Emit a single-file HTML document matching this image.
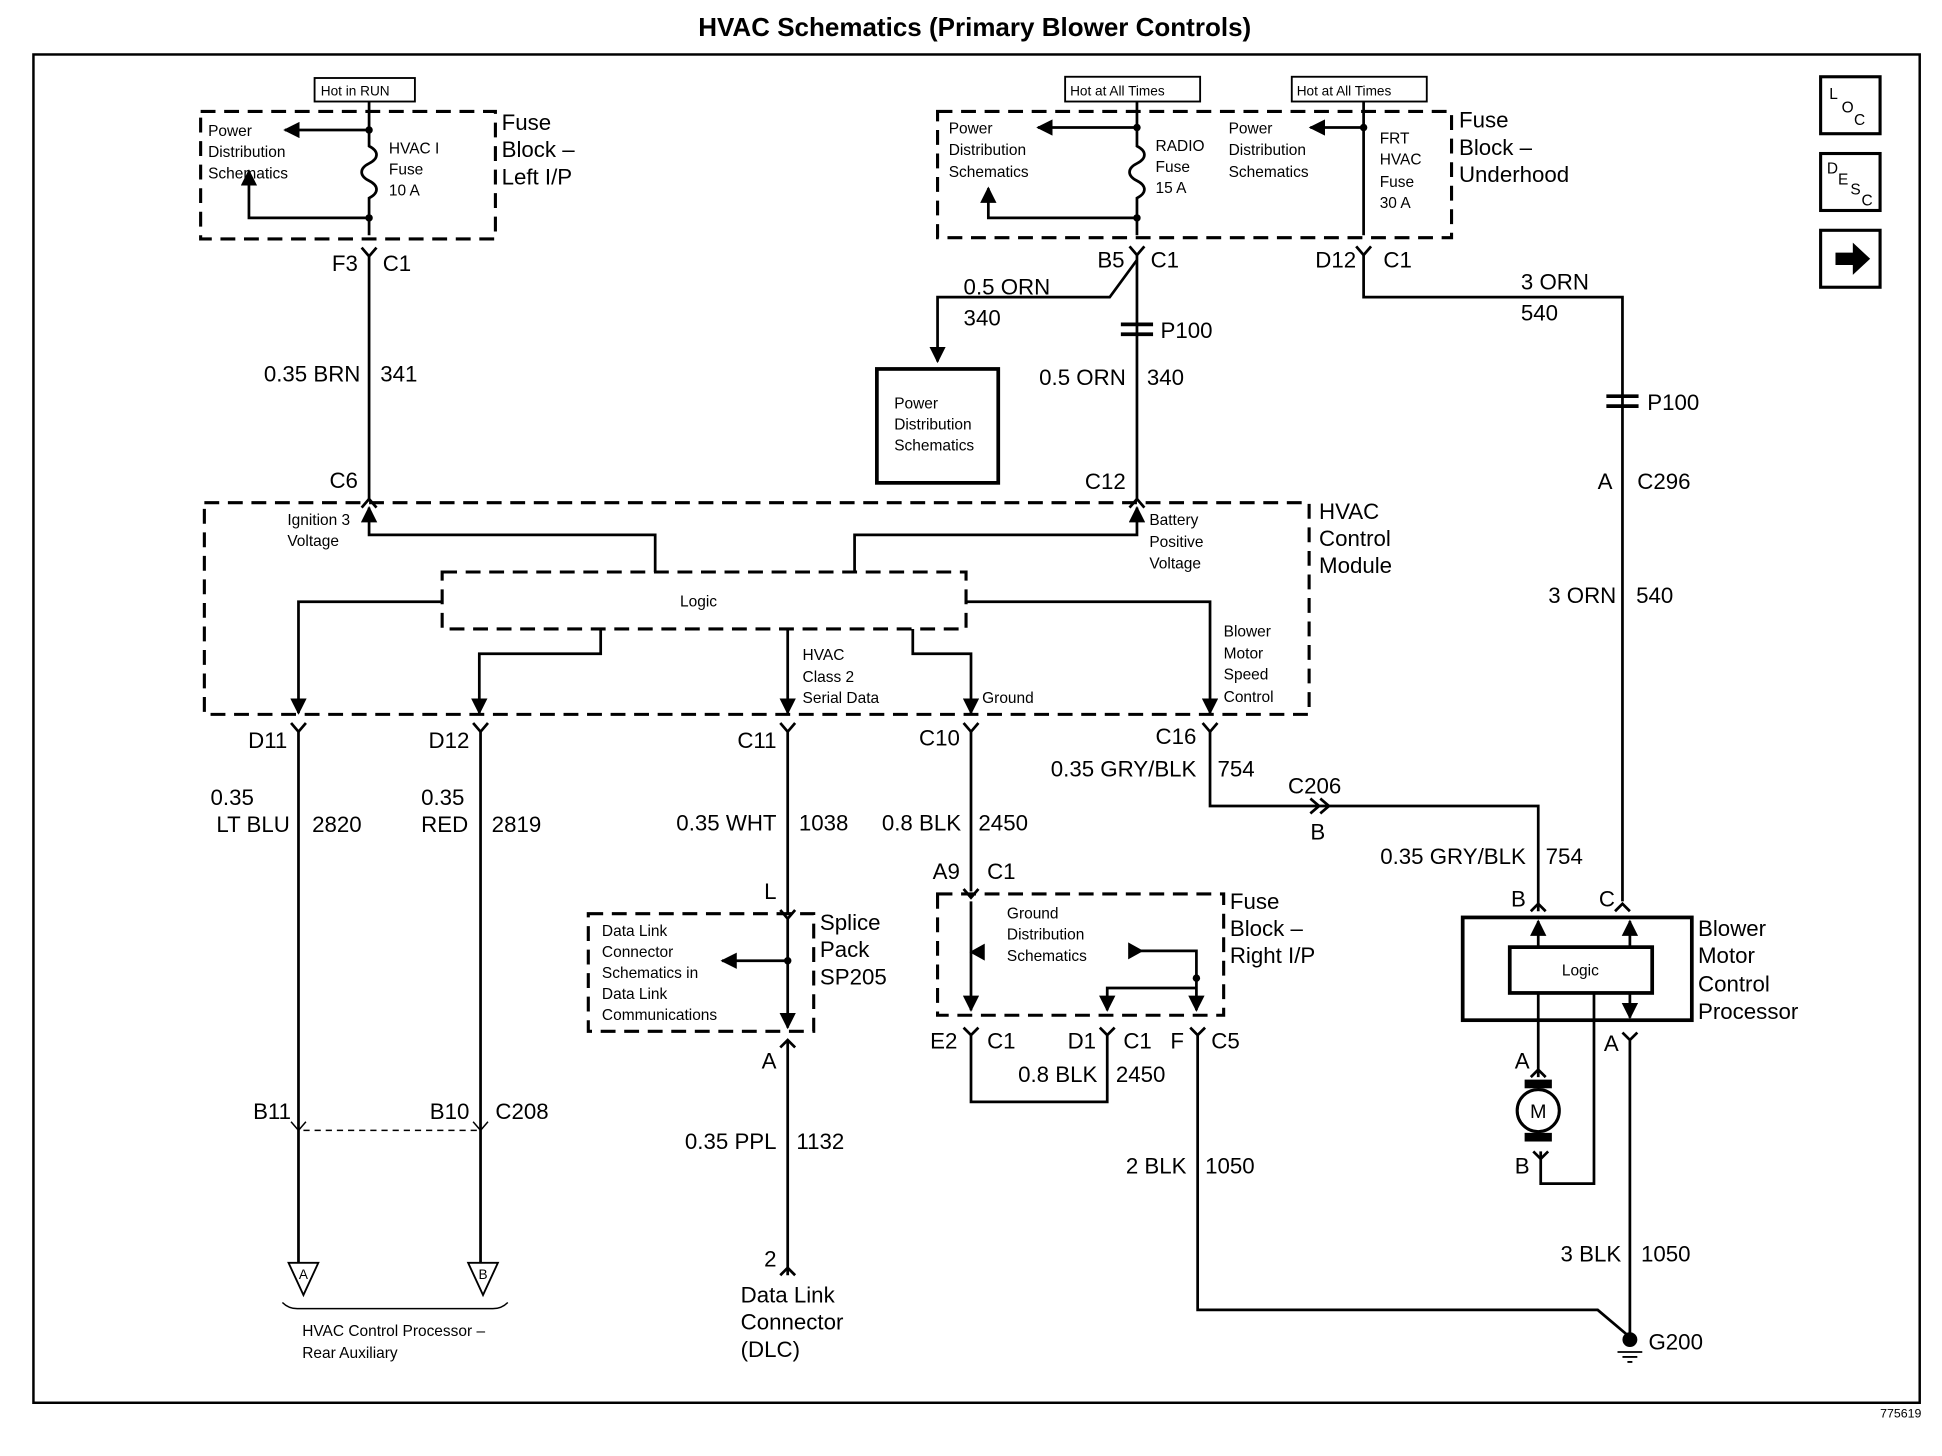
<!DOCTYPE html>
<html><head><meta charset="utf-8"><style>
html,body{margin:0;padding:0;background:#fff}
svg{display:block}
text{font-family:"Liberation Sans",Arial,sans-serif;fill:#000}
.l{font-size:18px}
.s{font-size:12.5px}
</style></head><body>
<svg width="1942" height="1456" viewBox="0 0 1568 1176" preserveAspectRatio="none" xmlns="http://www.w3.org/2000/svg">
<defs>
<marker id="ah" viewBox="0 0 10 10" refX="9" refY="5" markerWidth="6" markerHeight="6" orient="auto"><path d="M0,0 L10,5 L0,10 z" fill="#000"/></marker>
</defs>
<rect width="1568" height="1176" fill="#fff"/>
<text x="787" y="29" text-anchor="middle" font-size="21" font-weight="bold">HVAC Schematics (Primary Blower Controls)</text>
<rect x="27" y="44" width="1523" height="1089" fill="none" stroke="#000" stroke-width="2"/>
<text x="1518" y="1145" font-size="10">775619</text>
<g fill="none" stroke="#000" stroke-width="2.5">
<rect x="1470" y="62" width="48" height="46"/><rect x="1470" y="124" width="48" height="46"/><rect x="1470" y="186" width="48" height="46"/>
</g>
<text x="1477" y="80" class="s">L</text><text x="1487" y="91" class="s">O</text><text x="1497" y="101" class="s">C</text>
<text x="1475" y="140" class="s">D</text><text x="1484" y="149" class="s">E</text><text x="1494" y="157" class="s">S</text><text x="1503" y="166" class="s">C</text>
<path d="M1482,204 h14 v-8 l14,13 l-14,13 v-8 h-14z" fill="#000"/>

<g fill="none" stroke="#000" stroke-width="2.2">
<g stroke-dasharray="12,7" stroke-width="2.5">
<rect x="162" y="90" width="238" height="103"/>
<rect x="757" y="90" width="415" height="102"/>
<rect x="165" y="406" width="892" height="171"/>
<rect x="357" y="462" width="423" height="46"/>
<rect x="475" y="738" width="182" height="95"/>
<rect x="757" y="722" width="231" height="98"/>
</g>
<rect x="254" y="63" width="81" height="19" stroke-width="1.5"/>
<rect x="860" y="62" width="109" height="20" stroke-width="1.5"/>
<rect x="1043" y="62" width="109" height="20" stroke-width="1.5"/>
<path d="M298,82 V118 c8,4 8,10 0,14 c-8,4 -8,10 0,14 c8,4 8,10 0,14 V190"/>
<path d="M298,105 H230" marker-end="url(#ah)"/>
<path d="M298,176 H201 V138" marker-end="url(#ah)"/>
<path d="M292,200 l6,7 l6,-7 M298,207 V405"/>
<path d="M918,82 V118 c8,4 8,10 0,14 c-8,4 -8,10 0,14 c8,4 8,10 0,14 V190"/>
<path d="M918,103 H838" marker-end="url(#ah)"/>
<path d="M918,176 H798 V152" marker-end="url(#ah)"/>
<path d="M1101,82 V190"/>
<path d="M1101,103 H1058" marker-end="url(#ah)"/>
<path d="M912,199 l6,7 l6,-7 M1095,199 l6,7 l6,-7"/>
<path d="M918,206 V405"/>
<path d="M918,210 L896,240 H757 V292" marker-end="url(#ah)"/>
<rect x="708" y="298" width="98" height="92" stroke-width="3"/>
<path d="M1101,206 V240 H1310 V728"/>
<path d="M905,262 h26 M905,270 h26 M1297,320 h26 M1297,328 h26" stroke-width="3"/>
<path d="M529,462 V432 H298 V410" marker-end="url(#ah)"/>
<path d="M690,462 V432 H918 V410" marker-end="url(#ah)"/>
<path d="M357,486 H241 V576" marker-end="url(#ah)"/>
<path d="M485,508 V528 H387 V576" marker-end="url(#ah)"/>
<path d="M636,508 V576" marker-end="url(#ah)"/>
<path d="M737,508 V528 H784 V576" marker-end="url(#ah)"/>
<path d="M780,486 H977 V576" marker-end="url(#ah)"/>
<path d="M292,410 l6,-7 l6,7 M912,410 l6,-7 l6,7"/>
<path d="M235,584 l6,7 l6,-7 M382,584 l6,7 l6,-7 M630,584 l6,7 l6,-7 M778,584 l6,7 l6,-7 M971,584 l6,7 l6,-7"/>
<path d="M241,591 V1020 M388,591 V1020"/>
<path d="M245,913 H388" stroke-dasharray="5,4" stroke-width="1.2"/>
<path d="M235,906 l6,7 l6,-7 M382,906 l6,7 l6,-7" stroke-width="1.2"/>
<path d="M233,1020 L245,1046 L257,1020 z M378,1020 L390,1046 L402,1020 z" stroke-width="1.5"/>
<path d="M228,1052 q5,5 12,5 H398 q7,0 12,-5" stroke-width="1.2"/>
<path d="M636,591 V738"/>
<path d="M630,735 l6,7 l6,-7"/>
<path d="M636,742 V830" marker-end="url(#ah)"/>
<path d="M636,776 H583" marker-end="url(#ah)"/>
<path d="M630,846 l6,-6 l6,6 M636,840 V1030"/>
<path d="M630,1030 l6,-6 l6,6"/>
<path d="M784,591 V720"/>
<path d="M778,718 l6,7 l6,-7"/>
<path d="M784,728 V816" marker-end="url(#ah)"/>
<path d="M784,769 H794"/>
<path d="M794,764 l-9,5 l9,5z" fill="#000"/>
<path d="M912,763 l9,5 l-9,5z" fill="#000"/>
<path d="M921,768 H966 V816" marker-end="url(#ah)"/>
<path d="M966,798 H894 V816" marker-end="url(#ah)"/>
<path d="M778,830 l6,6 l6,-6 M888,830 l6,6 l6,-6 M961,830 l6,6 l6,-6"/>
<path d="M784,836 V890 H894 V836"/>
<path d="M967,836 V1058 H1290 L1316,1080"/>
<path d="M977,591 V651 H1242 V736"/>
<path d="M1058,645 l7,6 l-7,6 M1066,645 l7,6 l-7,6"/>
<path d="M1236,736 l6,-6 l6,6 M1304,736 l6,-6 l6,6"/>
<rect x="1181" y="741" width="185" height="83" stroke-width="3"/>
<rect x="1219" y="765" width="115" height="37" stroke-width="3"/>
<path d="M1242,765 V744" marker-end="url(#ah)"/>
<path d="M1316,765 V744" marker-end="url(#ah)"/>
<path d="M1316,802 V822" marker-end="url(#ah)"/>
<path d="M1242,802 V870"/>
<path d="M1236,870 l6,-6 l6,6"/>
<path d="M1287,802 V956 H1244 V930"/>
<path d="M1238,930 l6,6 l6,-6"/>
<path d="M1310,834 l6,6 l6,-6 M1316,840 V1080"/>
<circle cx="1242" cy="897" r="17" stroke-width="2.5"/>
<path d="M1306,1092 h20 M1310,1096 h12 M1314,1100 h4" stroke-width="1.5"/>
</g>
<rect x="1231" y="872" width="22" height="7" fill="#000"/>
<rect x="1231" y="915" width="22" height="7" fill="#000"/>
<circle cx="1316" cy="1082" r="6" fill="#000"/>
<g fill="#000"><circle cx="298" cy="105" r="3"/><circle cx="298" cy="176" r="3"/><circle cx="918" cy="103" r="3"/><circle cx="918" cy="176" r="3"/><circle cx="1101" cy="103" r="3"/><circle cx="636" cy="776" r="3"/><circle cx="966" cy="790" r="3"/></g>

<g class="s">
<text x="259" y="77" font-size="11">Hot in RUN</text>
<text x="864" y="77" font-size="11">Hot at All Times</text>
<text x="1047" y="77" font-size="11">Hot at All Times</text>
<text x="168" y="110">Power</text><text x="168" y="127">Distribution</text><text x="168" y="144">Schematics</text>
<text x="314" y="124">HVAC I</text><text x="314" y="141">Fuse</text><text x="314" y="158">10 A</text>
<text x="766" y="108">Power</text><text x="766" y="125">Distribution</text><text x="766" y="143">Schematics</text>
<text x="933" y="122">RADIO</text><text x="933" y="139">Fuse</text><text x="933" y="156">15 A</text>
<text x="992" y="108">Power</text><text x="992" y="125">Distribution</text><text x="992" y="143">Schematics</text>
<text x="1114" y="116">FRT</text><text x="1114" y="133">HVAC</text><text x="1114" y="151">Fuse</text><text x="1114" y="168">30 A</text>
<text x="722" y="330">Power</text><text x="722" y="347">Distribution</text><text x="722" y="364">Schematics</text>
<text x="232" y="424">Ignition 3</text><text x="232" y="441">Voltage</text>
<text x="928" y="424">Battery</text><text x="928" y="442">Positive</text><text x="928" y="459">Voltage</text>
<text x="564" y="490" text-anchor="middle">Logic</text>
<text x="648" y="533">HVAC</text><text x="648" y="551">Class 2</text><text x="648" y="568">Serial Data</text>
<text x="793" y="568">Ground</text>
<text x="988" y="514">Blower</text><text x="988" y="532">Motor</text><text x="988" y="549">Speed</text><text x="988" y="567">Control</text>
<text x="486" y="756">Data Link</text><text x="486" y="773">Connector</text><text x="486" y="790">Schematics in</text><text x="486" y="807">Data Link</text><text x="486" y="824">Communications</text>
<text x="813" y="742">Ground</text><text x="813" y="759">Distribution</text><text x="813" y="776">Schematics</text>
<text x="1276" y="788" text-anchor="middle">Logic</text>
<text x="1242" y="903" text-anchor="middle" font-size="16">M</text>
<text x="244" y="1079">HVAC Control Processor –</text><text x="244" y="1097">Rear Auxiliary</text>
<text x="245" y="1033" font-size="11" text-anchor="middle">A</text><text x="390" y="1033" font-size="11" text-anchor="middle">B</text>
</g>

<g class="l">
<text x="405" y="105">Fuse</text><text x="405" y="127">Block –</text><text x="405" y="149">Left I/P</text>
<text x="1178" y="103">Fuse</text><text x="1178" y="125">Block –</text><text x="1178" y="147">Underhood</text>
<text x="1065" y="419">HVAC</text><text x="1065" y="441">Control</text><text x="1065" y="463">Module</text>
<text x="662" y="751">Splice</text><text x="662" y="773">Pack</text><text x="662" y="795">SP205</text>
<text x="993" y="734">Fuse</text><text x="993" y="756">Block –</text><text x="993" y="778">Right I/P</text>
<text x="1371" y="756">Blower</text><text x="1371" y="778">Motor</text><text x="1371" y="801">Control</text><text x="1371" y="823">Processor</text>
<text x="598" y="1052">Data Link</text><text x="598" y="1074">Connector</text><text x="598" y="1096">(DLC)</text>

<g text-anchor="end">
<text x="289" y="219">F3</text><text x="908" y="216">B5</text><text x="1095" y="216">D12</text>
<text x="291" y="308">0.35 BRN</text><text x="289" y="394">C6</text>
<text x="909" y="311">0.5 ORN</text><text x="909" y="395">C12</text>
<text x="1302" y="395">A</text><text x="1305" y="487">3 ORN</text>
<text x="232" y="604">D11</text><text x="379" y="604">D12</text><text x="627" y="604">C11</text><text x="775" y="602">C10</text><text x="966" y="601">C16</text>
<text x="966" y="627">0.35 GRY/BLK</text>
<text x="234" y="672">LT BLU</text><text x="378" y="672">RED</text>
<text x="627" y="671">0.35 WHT</text><text x="776" y="671">0.8 BLK</text>
<text x="775" y="710">A9</text><text x="627" y="726">L</text>
<text x="1232" y="698">0.35 GRY/BLK</text><text x="1232" y="732">B</text><text x="1304" y="732">C</text>
<text x="627" y="863">A</text><text x="773" y="847">E2</text><text x="885" y="847">D1</text><text x="956" y="847">F</text>
<text x="886" y="874">0.8 BLK</text><text x="1307" y="849">A</text><text x="1235" y="863">A</text><text x="1235" y="948">B</text>
<text x="235" y="904">B11</text><text x="379" y="904">B10</text>
<text x="627" y="928">0.35 PPL</text><text x="958" y="948">2 BLK</text>
<text x="1309" y="1019">3 BLK</text><text x="627" y="1023">2</text>
</g>
<text x="309" y="219">C1</text><text x="929" y="216">C1</text><text x="1117" y="216">C1</text>
<text x="307" y="308">341</text><text x="926" y="311">340</text>
<text x="778" y="238">0.5 ORN</text><text x="778" y="263">340</text>
<text x="937" y="273">P100</text><text x="1330" y="331">P100</text>
<text x="1228" y="234">3 ORN</text><text x="1228" y="259">540</text>
<text x="1322" y="395">C296</text><text x="1321" y="487">540</text>
<text x="983" y="627">754</text><text x="1040" y="641">C206</text><text x="1058" y="678">B</text>
<text x="170" y="650">0.35</text><text x="252" y="672">2820</text>
<text x="340" y="650">0.35</text><text x="397" y="672">2819</text>
<text x="645" y="671">1038</text><text x="790" y="671">2450</text>
<text x="797" y="710">C1</text><text x="1248" y="698">754</text>
<text x="797" y="847">C1</text><text x="907" y="847">C1</text><text x="978" y="847">C5</text>
<text x="901" y="874">2450</text>
<text x="400" y="904">C208</text><text x="643" y="928">1132</text><text x="973" y="948">1050</text>
<text x="1325" y="1019">1050</text><text x="1331" y="1090">G200</text>
</g>
</svg>
</body></html>
